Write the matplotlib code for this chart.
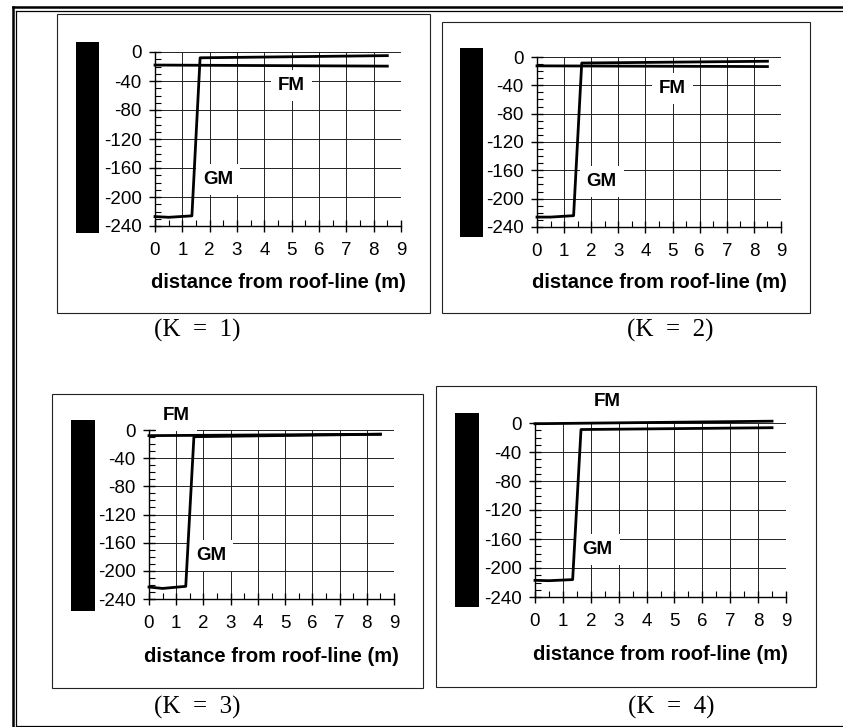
import matplotlib.pyplot as plt
from matplotlib.patches import Rectangle
from matplotlib.lines import Line2D

plt.rcParams['axes.unicode_minus'] = False

W, H = 843, 727

# data
x_gm = [0, 0.5, 1.35, 1.65, 8.5]
x_fm = [0, 8.5]

gm_k1 = [-227, -228, -226, -8, -5]
fm_k1 = [-18, -19.5]
gm_k2 = [-226, -226, -224, -8.5, -6]
fm_k2 = [-12.5, -13.5]
gm_k3 = [-223, -225, -222, -9.5, -6]
fm_k3 = [-8, -6]
gm_k4 = [-217, -217.5, -216, -9, -6.5]
fm_k4 = [-1, 2.5]

captions = ['(K  =  1)', '(K  =  2)', '(K  =  3)', '(K  =  4)']
fm_pos = [(5.0, -46), (5.0, -45), (1.0, 20), (2.6, 29)]
gm_pos = [(2.3, -176), (2.38, -176), (2.28, -178), (2.25, -174)]

# pixel layout: axes (l, t, r, b), bar (l, t, r, b), box (l, t, r, b), caption (x, y), xlabel y
panels = [
    dict(ax=(155, 52, 401, 226), bar=(76, 42, 99, 233), box=(57, 14, 430, 313), cap=(197, 330), xl=282),
    dict(ax=(537, 57, 781, 227), bar=(460, 48, 483, 237), box=(442, 22, 810, 313), cap=(670, 330), xl=283),
    dict(ax=(149, 430, 394, 599), bar=(71, 420, 95, 611), box=(52, 394, 423, 688), cap=(197, 707), xl=657),
    dict(ax=(535, 423, 786, 597), bar=(455, 413, 479, 607), box=(436, 386, 816, 687), cap=(671, 707), xl=655),
]
gms = [gm_k1, gm_k2, gm_k3, gm_k4]
fms = [fm_k1, fm_k2, fm_k3, fm_k4]

fig = plt.figure(figsize=(W / 100, H / 100), dpi=100)
fig.patch.set_facecolor('white')


def fx(px):
    return px / W


def fy(py):
    return 1 - py / H


# outer double frame (left + top, single line at bottom)
fig.add_artist(Line2D([fx(13), fx(13)], [fy(7), fy(727)], color='black', lw=1.8))
fig.add_artist(Line2D([fx(13), fx(843)], [fy(7), fy(7)], color='black', lw=1.8))
fig.add_artist(Line2D([fx(15.8), fx(15.8)], [fy(10.5), fy(726)], color='black', lw=0.9))
fig.add_artist(Line2D([fx(15.8), fx(843)], [fy(10.5), fy(10.5)], color='black', lw=0.9))
fig.add_artist(Line2D([fx(15.8), fx(843)], [fy(726), fy(726)], color='black', lw=0.9))

for i, p in enumerate(panels):
    bl, bt, br, bb = p['box']
    fig.add_artist(Rectangle((fx(bl), fy(bb)), fx(br - bl), (bb - bt) / H,
                             fill=False, edgecolor='#222222', lw=0.8))
    rl, rt, rr, rb = p['bar']
    fig.add_artist(Rectangle((fx(rl), fy(rb)), fx(rr - rl), (rb - rt) / H,
                             facecolor='black', edgecolor='none'))

    l, t, r, b = p['ax']
    ax = fig.add_axes([fx(l), fy(b), fx(r - l), (b - t) / H])
    ax.set_xlim(0, 9)
    ax.set_ylim(-240, 0)
    ax.set_xticks(range(10))
    ax.set_yticks(range(-240, 1, 40))
    ax.set_xticks([k + 0.5 for k in range(9)], minor=True)
    ax.set_yticks(range(-240, 1, 10), minor=True)
    ax.grid(True, which='major', color='#222222', lw=0.7)
    ax.set_axisbelow(True)
    for s in ['top', 'right']:
        ax.spines[s].set_visible(False)
    for s in ['left', 'bottom']:
        ax.spines[s].set_linewidth(1.0)
    ax.tick_params(which='major', direction='inout', length=9, width=1.0,
                   labelsize=13.5)
    ax.tick_params(axis='x', which='major', pad=7)
    ax.tick_params(axis='y', which='major', pad=5)
    ax.tick_params(which='minor', direction='in', length=4, width=0.8)
    for lab in ax.get_xticklabels() + ax.get_yticklabels():
        lab.set_family('Liberation Sans')

    ax.plot(x_gm, gms[i], color='black', lw=2.0, clip_on=False, zorder=3)
    ax.plot(x_fm, fms[i], color='black', lw=2.0, clip_on=False, zorder=3)

    ax.text(*fm_pos[i], 'FM', family='Liberation Sans', fontweight='bold', fontsize=13.5,
            ha='center', va='center', zorder=2.5, clip_on=False,
            bbox=dict(facecolor='white', edgecolor='none', pad=5))
    ax.text(*gm_pos[i], 'GM', family='Liberation Sans', fontweight='bold', fontsize=13.5,
            ha='center', va='center', zorder=2.5,
            bbox=dict(facecolor='white', edgecolor='none', pad=5))

    ax.set_xlabel('distance from roof-line (m)', family='Liberation Sans',
                  fontweight='bold', fontsize=14.5, va='center')
    ax.xaxis.set_label_coords(0.5, (b - p['xl']) / (b - t))

    cx, cy = p['cap']
    fig.text(fx(cx), fy(cy), captions[i], family='Liberation Serif', fontsize=18,
             ha='center', va='center')

fig.savefig('out.png', dpi=100)
